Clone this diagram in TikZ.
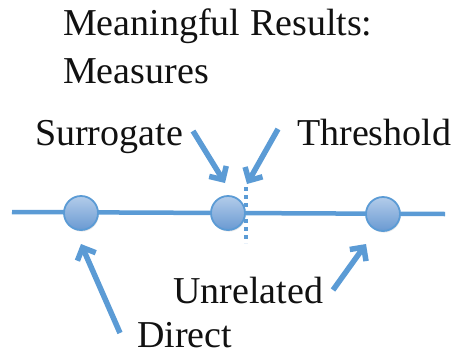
\documentclass[tikz,border=0pt]{standalone}
\usepackage{fontspec}
\setmainfont{Liberation Serif}
\usetikzlibrary{arrows.meta,shadows}
\definecolor{accent}{HTML}{5B9BD5}
\definecolor{balltop}{HTML}{B3CCEA}
\definecolor{ballbot}{HTML}{6A9AD2}
\definecolor{ink}{HTML}{111111}
\tikzset{
  x=1pt, y=-1pt,
  lbl/.style={anchor=base west, inner sep=0pt, text=ink,
    font=\fontsize{38}{48}\selectfont},
  ball/.style={circle, minimum size=34pt, inner sep=0pt,
    draw=accent, line width=1.8pt, top color=balltop, bottom color=ballbot,
    drop shadow={shadow xshift=0.8pt, shadow yshift=-1.6pt, opacity=0.18}},
  axis/.style={draw=accent, line width=4.5pt},
  pointer/.style={draw=accent, line width=5.5pt,
    -{Straight Barb[length=10pt, width=20pt, line width=5.5pt]}},
  cut/.style={draw=accent, line width=4.5pt, dash pattern=on 4pt off 4pt}
}
\begin{document}
\begin{tikzpicture}
  \useasboundingbox (0,0) rectangle (462,356);

  % title
  \node[lbl] (t1) at (63,35) {Meaningful Results:};
  \node[lbl] (t2) at (63,83) {Measures};

  % scale line
  \coordinate (lineL) at (12,212);
  \coordinate (lineR) at (445,214);
  \draw[axis] (lineL) -- (lineR);

  % threshold marker
  \coordinate (cutT) at (246,187);
  \coordinate (cutB) at (246,243);
  \draw[cut] (cutT) -- (cutB);

  % measure points
  \node[ball] (direct) at (81,213) {};
  \node[ball] (surr) at (228,213) {};
  \node[ball] (unrel) at (383,214) {};

  % labels
  \node[lbl] (lsurr) at (35,145) {Surrogate};
  \node[lbl] (lthr) at (297,145) {Threshold};
  \node[lbl] (lunrel) at (173,303) {Unrelated};
  \node[lbl] (ldirect) at (137,347) {Direct};

  % pointers
  \coordinate (sA) at (193,131);
  \coordinate (sB) at (225,183);
  \coordinate (hA) at (278,129);
  \coordinate (hB) at (247,184);
  \coordinate (dA) at (120,333);
  \coordinate (dB) at (81,244);
  \coordinate (uA) at (333,290);
  \coordinate (uB) at (366,244);
  \draw[pointer] (sA) -- (sB);
  \draw[pointer] (hA) -- (hB);
  \draw[pointer] (dA) -- (dB);
  \draw[pointer] (uA) -- (uB);
\end{tikzpicture}
\end{document}
